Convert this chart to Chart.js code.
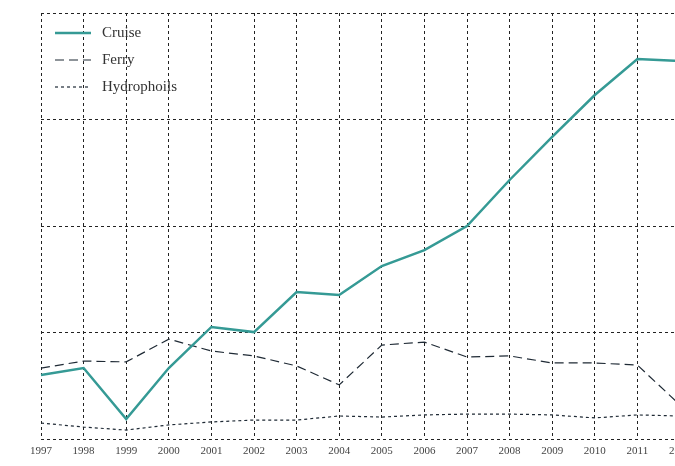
<!DOCTYPE html>
<html>
<head>
<meta charset="utf-8">
<script src="https://cdn.jsdelivr.net/npm/chart.js@4"></script>
<style>
  html, body { margin: 0; padding: 0; background: #fff; overflow: hidden; }
  #wrap { width: 700px; height: 466px; }
</style>
</head>
<body>
<div id="wrap"><canvas id="chart" width="700" height="466"></canvas></div>
<script>
// years on the x axis (the last one runs off the picture)
let years = ['1997', '1998', '1999', '2000', '2001', '2002', '2003', '2004',
             '2005', '2006', '2007', '2008', '2009', '2010', '2011', '2012']

// passengers, thousands
let cruise = [300, 333, 94, 333, 526, 502, 690, 676, 812, 887, 1000, 1216, 1418, 1615, 1784, 1775]
let ferry = [333, 366, 362, 469, 413, 390, 343, 254, 441, 455, 385, 390, 357, 357, 347, 160]
let hydrophoils = [75, 56, 42, 66, 80, 89, 89, 108, 103, 113, 117, 117, 113, 99, 113, 108]

const serif = '"Liberation Serif", "DejaVu Serif", serif'

// legend drawn inside the plot, top left
const insideLegend = {
    id: 'insideLegend',
    afterDraw(chart) {
        const ctx = chart.ctx
        ctx.save()
        chart.data.datasets.forEach((ds, i) => {
            const y = 33 + i * 27
            ctx.beginPath()
            ctx.strokeStyle = ds.borderColor
            ctx.lineWidth = ds.borderWidth
            ctx.setLineDash(ds.borderDash || [])
            ctx.moveTo(55, y)
            ctx.lineTo(91, y)
            ctx.stroke()
            ctx.setLineDash([])
            ctx.fillStyle = '#333'
            ctx.font = '15px ' + serif
            ctx.textBaseline = 'middle'
            ctx.fillText(ds.label, 102, y)
        })
        ctx.restore()
    }
}

const grid = {
    color: '#222',
    lineWidth: 1,
    tickLength: 0,
    drawTicks: false
}

new Chart(document.getElementById('chart'), {
    type: 'line',
    data: {
        labels: years,
        datasets: [
            { label: 'Cruise', data: cruise, borderColor: '#359a95', borderWidth: 2.5 },
            { label: 'Ferry', data: ferry, borderColor: '#1f2a35', borderWidth: 1.2, borderDash: [9, 5] },
            { label: 'Hydrophoils', data: hydrophoils, borderColor: '#1f2a35', borderWidth: 1.2, borderDash: [3, 3] }
        ]
    },
    options: {
        responsive: false,
        animation: false,
        layout: { padding: { top: 13, right: 20, left: 0, bottom: 0 } },
        elements: {
            point: { radius: 0 },
            line: { tension: 0, fill: false, borderCapStyle: 'butt' }
        },
        plugins: {
            legend: { display: false },
            tooltip: { enabled: false }
        },
        scales: {
            x: {
                grid: grid,
                border: { display: false, dash: [3, 3] },
                ticks: {
                    color: '#444',
                    font: { family: serif, size: 11 },
                    padding: 6,
                    maxRotation: 0,
                    autoSkip: false
                },
                afterFit(scale) { scale.height = 27 }
            },
            y: {
                min: 0,
                max: 2000,
                grid: grid,
                border: { display: false, dash: [3, 3] },
                ticks: { display: false, stepSize: 500 },
                afterFit(scale) { scale.width = 41 }
            }
        }
    },
    plugins: [insideLegend]
});
</script>
</body>
</html>
